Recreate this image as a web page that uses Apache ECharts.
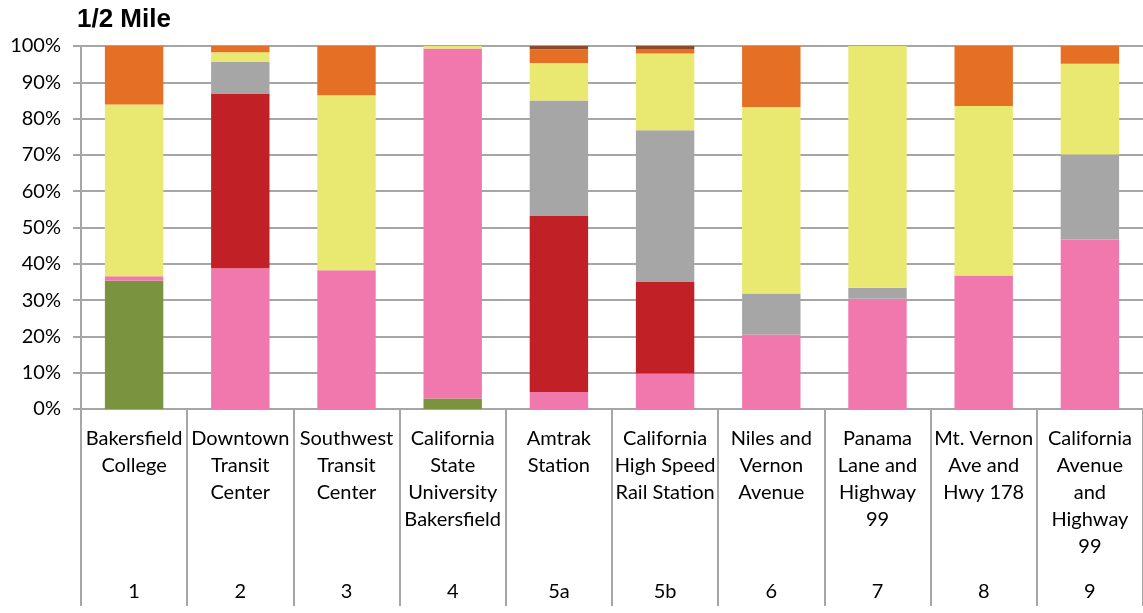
<html>
<head>
  <meta charset="utf-8" />
  <title>1/2 Mile</title>
  <script type="text/javascript" src="https://cdn.jsdelivr.net/npm/echarts@6/dist/echarts.min.js"></script>
</head>
<body style="margin:0; background:#fff">
  <div id="chart" style="width:1143px; height:613px"></div>
<script type="text/javascript">
  // categories (station names + id numbers)
  var stationNames = [
    'Bakersfield\nCollege',
    'Downtown\nTransit\nCenter',
    'Southwest\nTransit\nCenter',
    'California\nState\nUniversity\nBakersfield',
    'Amtrak\nStation',
    'California\nHigh Speed\nRail Station',
    'Niles and\nVernon\nAvenue',
    'Panama\nLane and\nHighway\n99',
    'Mt. Vernon\nAve and\nHwy 178',
    'California\nAvenue\nand\nHighway\n99'
  ];
  var stationIds = ['1', '2', '3', '4', '5a', '5b', '6', '7', '8', '9'];

  // stacked shares (%) bottom -> top
  var greenVals  = [35.3, 0, 0, 2.9, 0, 0, 0, 0, 0, 0];
  var pinkVals   = [1.3, 38.8, 38.2, 96.4, 4.7, 9.8, 20.5, 30.4, 36.8, 46.7];
  var redVals    = [0, 48.1, 0, 0, 48.5, 25.2, 0, 0, 0, 0];
  var grayVals   = [0, 8.7, 0, 0, 31.8, 41.8, 11.3, 3.0, 0, 23.4];
  var yellowVals = [47.3, 2.7, 48.2, 0.7, 10.3, 21.1, 51.4, 66.6, 46.7, 25.0];
  var orangeVals = [16.1, 1.7, 13.6, 0, 3.8, 1.3, 16.8, 0, 16.5, 4.9];
  var brownVals  = [0, 0, 0, 0, 0.9, 0.8, 0, 0, 0, 0];

  var fontName = 'Lato, "Liberation Sans", sans-serif';
  var lineGray = '#a6a6a6';

  function barSeries(name, vals, color) {
    return {
      name: name,
      type: 'bar',
      stack: 'share',
      barWidth: '55%',
      animation: false,
      itemStyle: { color: color },
      data: vals
    };
  }

  var myChart = echarts.init(document.getElementById('chart'));
  var option = {
    backgroundColor: '#fff',
    title: {
      text: '1/2 Mile',
      left: 72,
      top: 2,
      textStyle: { fontFamily: '"Liberation Sans", Arial', fontWeight: 'bold', fontSize: 26, color: '#000' }
    },
    grid: { left: 81, right: 0, top: 46, bottom: 204 },
    xAxis: [{
      type: 'category',
      data: stationNames,
      axisLine: { lineStyle: { color: lineGray, width: 2 } },
      axisTick: { show: true, length: 197, alignWithLabel: false, interval: 0, lineStyle: { color: lineGray, width: 2 } },
      axisLabel: {
        interval: 0, margin: 16, verticalAlign: 'top',
        fontFamily: fontName, fontSize: 20, lineHeight: 27, color: '#000'
      }
    }, {
      type: 'category',
      position: 'bottom',
      data: stationIds,
      axisLine: { show: false },
      axisTick: { show: false },
      axisLabel: {
        interval: 0, margin: 173,
        fontFamily: fontName, fontSize: 20, color: '#000'
      }
    }],
    yAxis: {
      type: 'value',
      min: 0,
      max: 100,
      interval: 10,
      axisLine: { show: true, lineStyle: { color: lineGray, width: 2 } },
      axisTick: { show: true, length: 8, lineStyle: { color: lineGray, width: 2 } },
      splitLine: { lineStyle: { color: lineGray, width: 2 } },
      axisLabel: {
        formatter: '{value}%', margin: 20,
        fontFamily: fontName, fontSize: 20, color: '#000'
      }
    },
    series: [
      barSeries('green', greenVals, '#7a933e'),
      barSeries('pink', pinkVals, '#f078ac'),
      barSeries('red', redVals, '#c02026'),
      barSeries('gray', grayVals, '#a6a6a6'),
      barSeries('yellow', yellowVals, '#e9e972'),
      barSeries('orange', orangeVals, '#e57025'),
      barSeries('brown', brownVals, '#8b4a2a')
    ]
  };
  myChart.setOption(option);
</script>
</body>
</html>
